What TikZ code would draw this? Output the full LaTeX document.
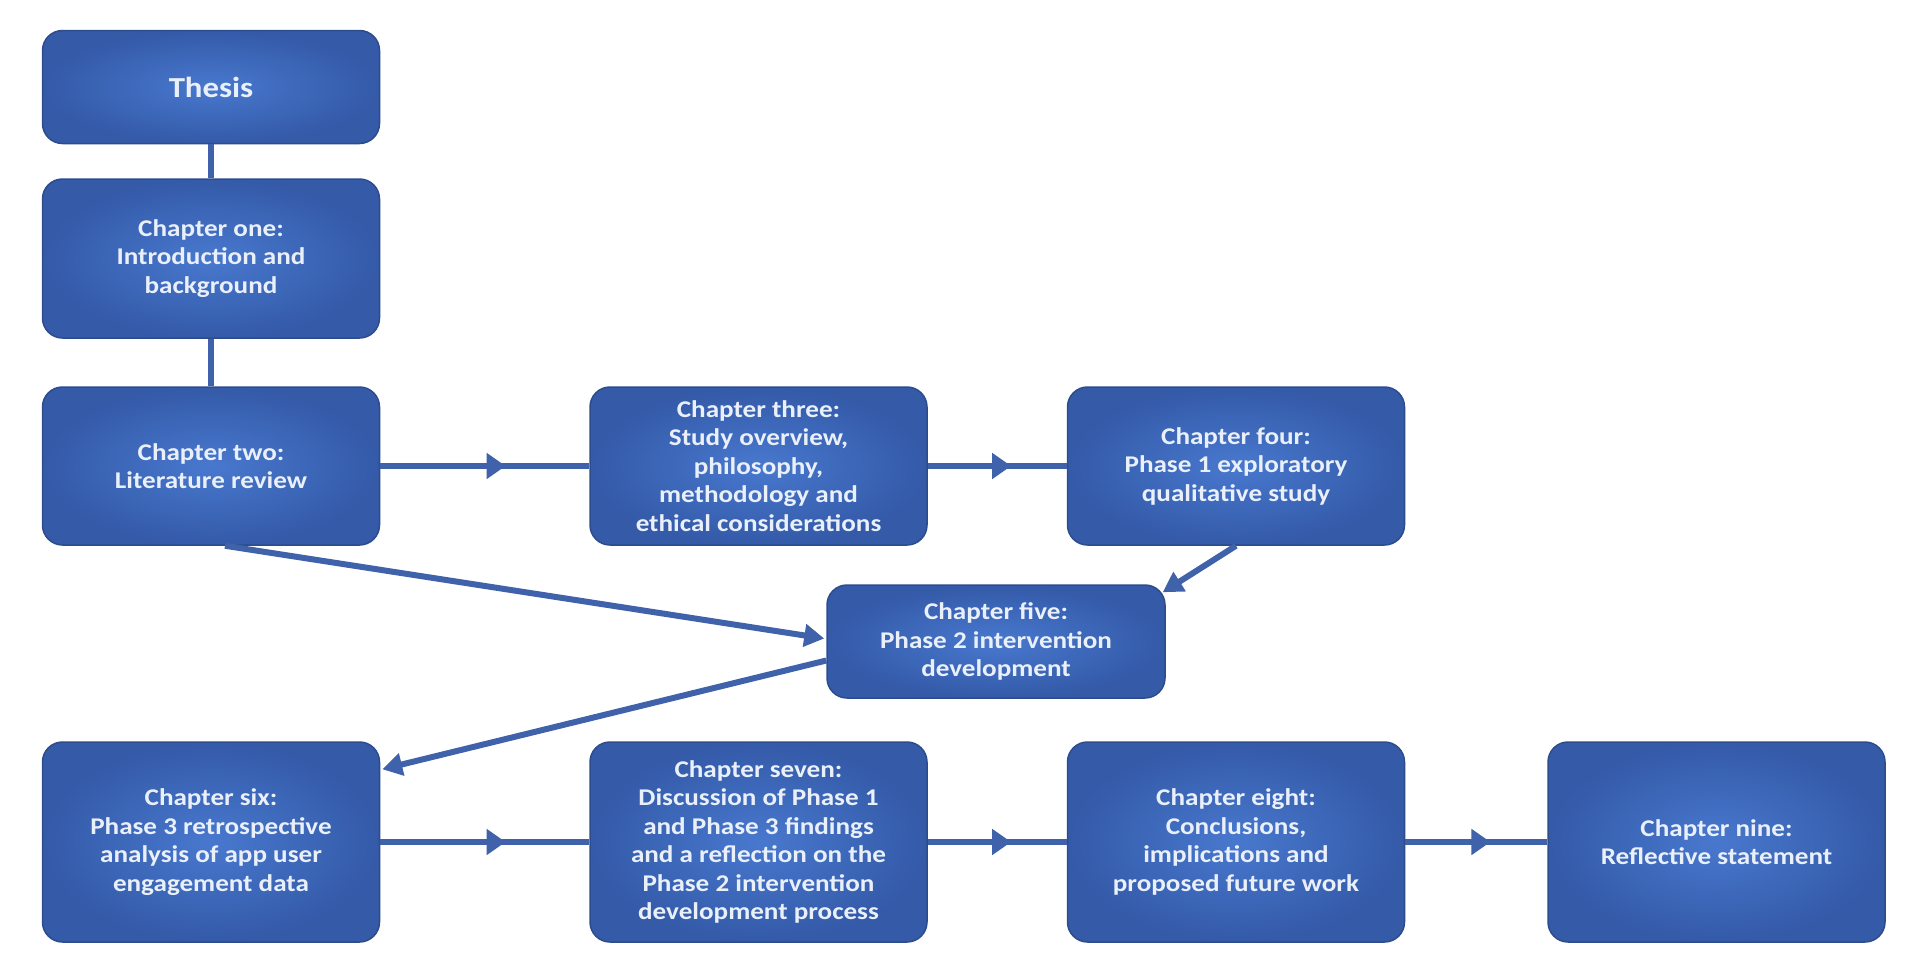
\documentclass[tikz,border=0pt]{standalone}
\usepackage{fontspec}
\setmainfont{Carlito}
\newfontfamily\boxfont{Carlito}[FakeStretch=1.13]
\usetikzlibrary{arrows.meta,calc,decorations.markings}

\definecolor{boxedge}{RGB}{44,76,140}
\definecolor{boxinner}{RGB}{72,120,206}
\definecolor{boxouter}{RGB}{52,90,168}
\definecolor{linkcol}{RGB}{63,98,170}
\definecolor{labelcol}{RGB}{234,240,250}

\tikzset{
  chapter/.style={draw=boxedge, line width=1.5pt, rounded corners=20pt,
    inner color=boxinner, outer color=boxouter, text=labelcol,
    align=center, font=\boxfont\bfseries\fontsize{24}{28.5}\selectfont,
    minimum width=337pt, minimum height=#1, inner sep=0pt},
  link/.style={draw=linkcol, line width=6pt},
  flow/.style={link, postaction={decorate},
    decoration={markings, mark=at position 0.6 with
      {\arrow[linkcol]{Triangle[length=19pt,width=25pt]}}}},
  lead/.style={link, -{Triangle[length=20pt,width=22pt]}},
}

\begin{document}
\begin{tikzpicture}[x=1pt,y=-1pt]
  \useasboundingbox[fill=white] (0,0) rectangle (1907,964);

  % first column
  \node[chapter=113pt, font=\boxfont\bfseries\fontsize{29}{34}\selectfont] (thesis) at (211,87) {Thesis};
  \node[chapter=159pt] (ch1) at (211,258.5) {Chapter one:\\Introduction and\\background};
  \node[chapter=158pt] (ch2) at (211,466) {Chapter two:\\Literature review};

  % middle row
  \node[chapter=158pt] (ch3) at (758.5,466) {Chapter three:\\Study overview,\\philosophy,\\methodology and\\ethical considerations};
  \node[chapter=158pt] (ch4) at (1236,466) {Chapter four:\\Phase 1 exploratory\\qualitative study};
  \node[chapter=113pt, minimum width=338pt] (ch5) at (996,641.5) {Chapter five:\\Phase 2 intervention\\development};

  % bottom row
  \node[chapter=200pt] (ch6) at (211,842) {Chapter six:\\Phase 3 retrospective\\analysis of app user\\engagement data};
  \node[chapter=200pt] (ch7) at (758.5,842) {Chapter seven:\\Discussion of Phase 1\\and Phase 3 findings\\and a reflection on the\\Phase 2 intervention\\development process};
  \node[chapter=200pt] (ch8) at (1236,842) {Chapter eight:\\Conclusions,\\implications and\\proposed future work};
  \node[chapter=200pt] (ch9) at (1716.5,842) {Chapter nine:\\Reflective statement};

  % connectors
  \draw[link] (thesis.south) -- (ch1.north);
  \draw[link] (ch1.south) -- (ch2.north);
  \draw[flow] (ch2.east) -- (ch3.west);
  \draw[flow] (ch3.east) -- (ch4.west);
  \draw[lead] ($(ch2.south)+(14,0)$) -- ($(ch5.west)+(-2,-3)$);
  \draw[lead] (ch4.south) -- ($(ch5.north east)+(-3,8)$);
  \draw[lead] ($(ch5.west)+(0,19)$) -- ($(ch6.north east)+(2,28)$);
  \draw[flow] (ch6.east) -- (ch7.west);
  \draw[flow] (ch7.east) -- (ch8.west);
  \draw[flow] (ch8.east) -- (ch9.west);
\end{tikzpicture}
\end{document}
